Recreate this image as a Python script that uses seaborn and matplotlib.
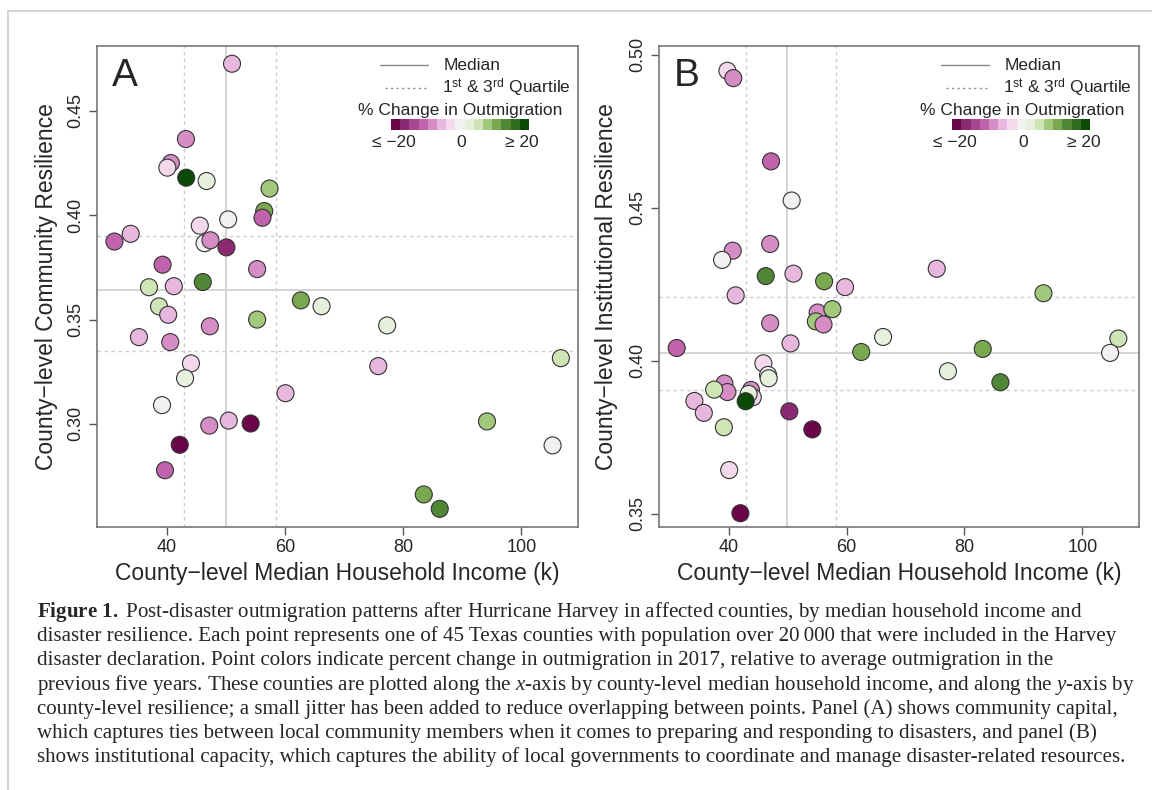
import numpy as np
import pandas as pd
import matplotlib
matplotlib.use('Agg')
import matplotlib.pyplot as plt
from matplotlib.lines import Line2D
from matplotlib.patches import Rectangle
import seaborn as sns

# Panel A: county median household income (k), community resilience, % change in outmigration
income_a = [51.05, 43.25, 40.7, 40.1, 43.3, 46.75, 57.4, 56.5, 56.2, 50.4,
            45.6, 46.4, 47.4, 50.1, 31.15, 33.9, 39.3, 55.3, 46.1, 37.0,
            41.2, 38.7, 40.25, 47.3, 35.3, 40.6, 44.1, 43.1, 39.2, 47.2,
            50.5, 54.2, 42.2, 39.7, 60.1, 55.3, 62.7, 66.2, 77.3, 75.8,
            106.7, 94.2, 105.3, 83.5, 86.2]
community = [0.4726, 0.4365, 0.425, 0.4228, 0.418, 0.4164, 0.4128, 0.402, 0.3988, 0.398,
             0.395, 0.3866, 0.388, 0.3846, 0.3874, 0.3911, 0.3763, 0.3742, 0.368, 0.3655,
             0.366, 0.3563, 0.3523, 0.3468, 0.3416, 0.3392, 0.329, 0.3219, 0.309, 0.2992,
             0.3016, 0.3002, 0.29, 0.2778, 0.3147, 0.350, 0.3592, 0.3564, 0.3472, 0.3277,
             0.3315, 0.3012, 0.2897, 0.2662, 0.2593]
change_a = [-5.5, -8, -8, -2.5, 22, 2.5, 8, 10.5, -10.5, 0,
            -2.5, 0, -8, -16, -10.5, -5.5, -10.5, -8, 13, 5.5,
            -5.5, 5.5, -5.5, -8, -5.5, -8, -2.5, 2.5, 0, -8,
            -5.5, -22, -22, -10.5, -5.5, 8, 10.5, 2.5, 2.5, -5.5,
            5.5, 8, 0, 10.5, 13]

# Panel B: income (k), institutional resilience, % change in outmigration
income_b = [39.8, 40.8, 47.2, 50.7, 40.7, 38.9, 47.05, 46.3, 51.0, 56.2,
            59.75, 41.2, 55.1, 57.6, 54.8, 56.1, 47.05, 50.5, 66.2, 62.5,
            31.2, 45.9, 46.7, 46.8, 39.3, 39.8, 37.55, 43.8, 44.1, 43.4,
            42.9, 34.2, 35.8, 39.2, 50.3, 54.2, 40.1, 42.0, 75.3, 93.4,
            83.1, 77.2, 86.1, 106.1, 104.7]
institutional = [0.4947, 0.4923, 0.4651, 0.4523, 0.4359, 0.4329, 0.4381, 0.4276, 0.4284, 0.4259,
                 0.424, 0.4213, 0.4157, 0.4168, 0.4128, 0.4118, 0.4122, 0.4056, 0.4077, 0.4028,
                 0.4041, 0.3991, 0.3953, 0.3942, 0.3925, 0.3897, 0.3905, 0.3904, 0.388, 0.3891,
                 0.3867, 0.3868, 0.3829, 0.3782, 0.3834, 0.3775, 0.3642, 0.3501, 0.430, 0.422,
                 0.4038, 0.3965, 0.3929, 0.4072, 0.4025]
change_b = [-2.5, -8, -10.5, 0, -8, 0, -8, 13, -5.5, 10.5,
            -5.5, -5.5, -8, 8, 8, -8, -8, -5.5, 2.5, 10.5,
            -10.5, -2.5, 0, 2.5, -8, -8, 5.5, -8, -2.5, 2.5,
            22, -5.5, -5.5, 5.5, -16, -22, -2.5, -22, -5.5, 8,
            10.5, 2.5, 13, 5.5, 0]

# median and quartile reference lines
inc_med_a, inc_q_a = 50.0, [42.9, 58.5]
res_med_a, res_q_a = 0.364, [0.335, 0.390]
inc_med_b, inc_q_b = 49.9, [42.9, 58.3]
res_med_b, res_q_b = 0.4024, [0.3905, 0.4208]

# 15-step pink-green ramp, -20 .. 20
ramp = ['#6a0549', '#8b2a72', '#a7478f', '#c163ac', '#d68dc6', '#e8b7dd', '#f4d9ec',
        '#f2f0f0', '#e6f0dd', '#cfe5b5', '#a2c87c', '#79a850', '#508737', '#2f6c20', '#0b4a06']
edges = np.linspace(-20, 20, 16)

sns.set_style('white')
plt.rcParams['font.family'] = ['Liberation Sans', 'DejaVu Sans']
plt.rcParams['mathtext.fontset'] = 'custom'
plt.rcParams['mathtext.rm'] = 'Liberation Serif'
plt.rcParams['mathtext.it'] = 'Liberation Serif:italic'
plt.rcParams['mathtext.bf'] = 'Liberation Serif:bold'
plt.rcParams['mathtext.sf'] = 'Liberation Sans'

W, H = 1152, 790
fig = plt.figure(figsize=(W / 100, H / 100), dpi=100)
ax_a = fig.add_axes([97 / W, 1 - 527 / H, 481 / W, 481 / H])
ax_b = fig.add_axes([659 / W, 1 - 527 / H, 480 / W, 481 / H])

pal = {i: c for i, c in enumerate(ramp)}


def panel(ax, inc, res, chg, med_x, q_x, med_y, q_y, ylim, yticks, ylabel, letter):
    df = pd.DataFrame({'income': inc, 'res': res,
                       'bin': np.digitize(chg, edges[1:-1])})
    for v in q_x:
        ax.axvline(v, color='#cccccc', lw=1, ls=(0, (2.5, 2.5)), zorder=1)
    for v in q_y:
        ax.axhline(v, color='#cccccc', lw=1, ls=(0, (2.5, 2.5)), zorder=1)
    ax.axvline(med_x, color='#d4d4d4', lw=1.4, zorder=1)
    ax.axhline(med_y, color='#d4d4d4', lw=1.4, zorder=1)

    sns.scatterplot(data=df, x='income', y='res', hue='bin', palette=pal,
                    s=150, edgecolor='#333333', linewidth=0.8, legend=False,
                    ax=ax, zorder=3)

    ax.set_xlim(28.2, 109.6)
    ax.set_ylim(*ylim)
    ax.set_xticks([40, 60, 80, 100])
    ax.set_yticks(yticks)
    ax.set_yticklabels([f'{t:.2f}' for t in yticks])
    ax.tick_params(axis='both', direction='out', length=6, width=1,
                   color='#555555', labelsize=13, pad=3, left=True, bottom=True)
    plt.setp(ax.get_yticklabels(), rotation=90, va='center', ha='right')
    for s in ax.spines.values():
        s.set_color('#777777')
        s.set_linewidth(1.2)

    ax.set_xlabel('County\u2212level Median Household Income (k)', fontsize=16.5)
    ax.set_ylabel(ylabel, fontsize=16.5)
    ax.xaxis.set_label_coords(0.5, -0.096)
    ax.xaxis.label.set_va('center')
    ax.yaxis.set_label_coords(-0.106, 0.5)
    ax.yaxis.label.set_va('center')

    ax.text(0.031, 0.975, letter, transform=ax.transAxes, fontsize=28, va='top')

    # legend: median / quartile lines and colour ramp
    T = ax.transAxes
    ax.add_line(Line2D([0.588, 0.688], [0.960, 0.960], color='#888888', lw=1, transform=T))
    ax.add_line(Line2D([0.598, 0.688], [0.912, 0.912], color='#888888', lw=1,
                       ls=(0, (1.5, 2.5)), transform=T))
    ax.text(0.721, 0.960, 'Median', transform=T, fontsize=12.5, va='center')
    ax.text(0.717, 0.912, r'1$^{\mathsf{st}}$ & 3$^{\mathsf{rd}}$ Quartile',
            transform=T, fontsize=12.5, va='center')
    ax.text(0.756, 0.866, '% Change in Outmigration', transform=T, fontsize=12.5,
            ha='center', va='center')
    bw = 0.287 / len(ramp)
    for i, c in enumerate(ramp):
        ax.add_patch(Rectangle((0.611 + i * bw, 0.825), bw, 0.023, facecolor=c,
                               edgecolor='none', transform=T))
    ax.text(0.617, 0.800, '\u2264 \u221220', transform=T, fontsize=12.5, ha='center', va='center')
    ax.text(0.758, 0.800, '0', transform=T, fontsize=12.5, ha='center', va='center')
    ax.text(0.884, 0.800, '\u2265 20', transform=T, fontsize=12.5, ha='center', va='center')


panel(ax_a, income_a, community, change_a, inc_med_a, inc_q_a, res_med_a, res_q_a,
      (0.2506, 0.4811), [0.30, 0.35, 0.40, 0.45], 'County\u2212level Community Resilience', 'A')
panel(ax_b, income_b, institutional, change_b, inc_med_b, inc_q_b, res_med_b, res_q_b,
      (0.3456, 0.5028), [0.35, 0.40, 0.45, 0.50], 'County\u2212level Institutional Resilience', 'B')
ax_b.yaxis.set_label_coords(-0.110, 0.5)

# page frame
fig.add_artist(Line2D([8 / W, 1], [1 - 11 / H] * 2, color='#cccccc', lw=1.2))
fig.add_artist(Line2D([8 / W] * 2, [0, 1 - 11 / H], color='#cccccc', lw=1.2))

caption = [
    r'$\mathbf{Figure\ 1.\ }$Post-disaster outmigration patterns after Hurricane Harvey in affected counties, by median household income and',
    'disaster resilience. Each point represents one of 45 Texas counties with population over 20\u2009000 that were included in the Harvey',
    'disaster declaration. Point colors indicate percent change in outmigration in 2017, relative to average outmigration in the',
    r'previous five years. These counties are plotted along the $x$-axis by county-level median household income, and along the $y$-axis by',
    'county-level resilience; a small jitter has been added to reduce overlapping between points. Panel (A) shows community capital,',
    'which captures ties between local community members when it comes to preparing and responding to disasters, and panel (B)',
    'shows institutional capacity, which captures the ability of local governments to coordinate and manage disaster-related resources.',
]
for k, line in enumerate(caption):
    fig.text(37 / W, 1 - (612 + k * 24.2) / H, line, fontsize=15.1,
             family=['Liberation Serif', 'DejaVu Serif'], va='center', ha='left')

fig.savefig('out.png', dpi=100)
